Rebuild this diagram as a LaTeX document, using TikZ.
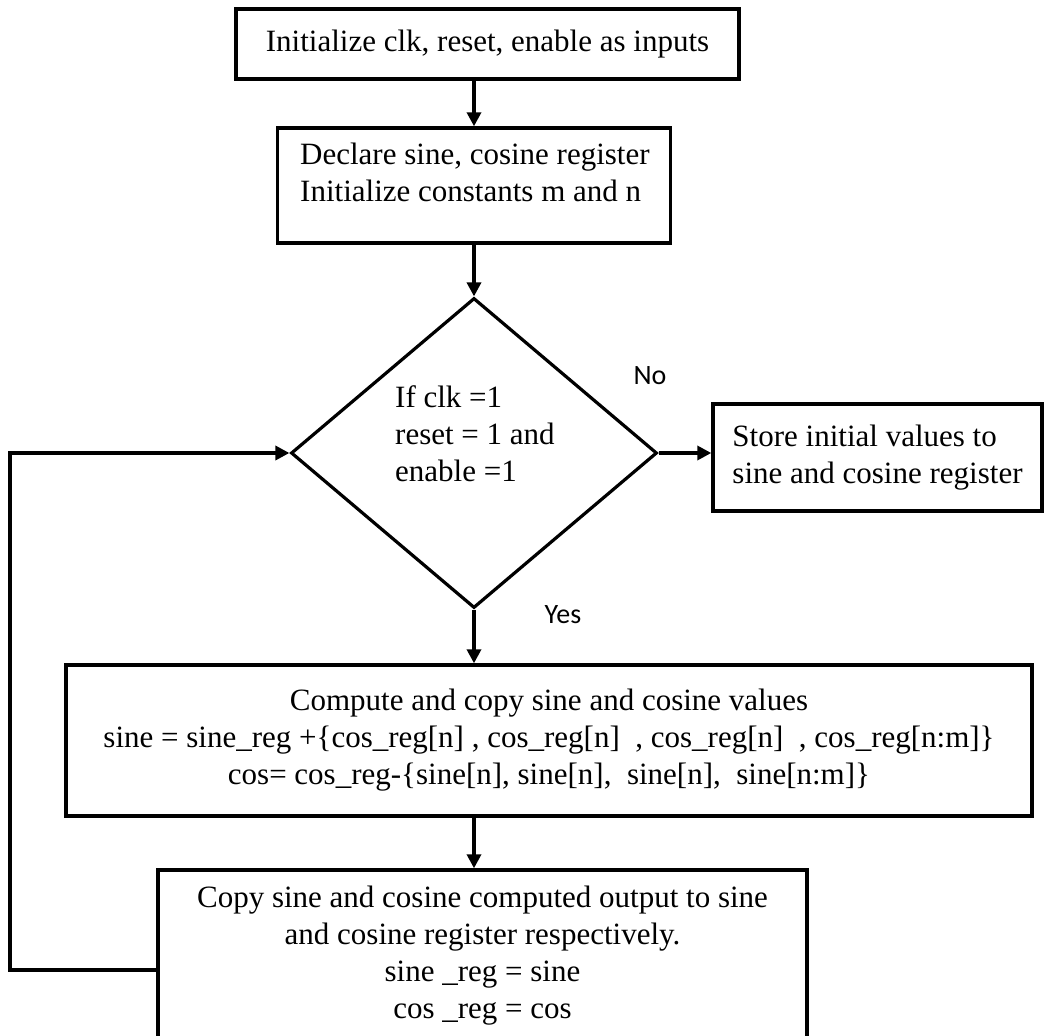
\documentclass[tikz,border=0pt]{standalone}
\usepackage{fontspec}
\setmainfont{Liberation Serif}
\newfontfamily\labelfont{Carlito}
\usetikzlibrary{shapes.geometric,arrows.meta}

\begin{document}
\begin{tikzpicture}[x=1pt,y=-1pt,
	box/.style={draw,line width=3.4pt,inner sep=0pt,align=center,font=\fontsize{31}{37}\selectfont},
	decision/.style={diamond,draw,line width=3.2pt,inner sep=0pt},
	txt/.style={inner sep=0pt,align=left,font=\fontsize{31}{37}\selectfont},
	flow/.style={line width=3.4pt,-{Triangle[length=14pt,width=14pt]}},
	lbl/.style={inner sep=0pt,font=\labelfont\fontsize{28}{32}\selectfont}]
	\useasboundingbox (0,0) rectangle (1047,1036);
	
	% Boxes
	\node[box,minimum width=503pt,minimum height=70pt] (init) at (487.5,44) {Initialize clk, reset, enable as inputs};
	
	\node[box,minimum width=393pt,minimum height=115pt] (declare) at (474,185.5) {};
	\node[txt,anchor=west] (declaretxt) at (300,172) {Declare sine, cosine register\\Initialize constants m and n};
	
	\node[decision,minimum width=366pt,minimum height=310pt] (check) at (474,453) {};
	\node[txt,anchor=west] (checktxt) at (395,434) {If clk =1\\reset = 1 and\\enable =1};
	
	\node[box,align=left,minimum width=329pt,minimum height=107pt] (store) at (877.5,457.5) {Store initial values to\\sine and cosine register};
	
	\node[box,minimum width=966pt,minimum height=151pt] (compute) at (549,740.5) {Compute and copy sine and cosine values\\
		sine = sine\_reg +\{cos\_reg[n] , cos\_reg[n]\ \ , cos\_reg[n]\ \ , cos\_reg[n:m]\}\\
		cos= cos\_reg-\{sine[n], sine[n],\ \ sine[n],\ \ sine[n:m]\}};
	
	\node[box,minimum width=649pt,minimum height=172pt] (copyout) at (482.5,956) {Copy sine and cosine computed output to sine\\
		and cosine register respectively.\\
		sine \_reg = sine\\
		cos \_reg = cos};
	
	% Labels
	\node[lbl] (no) at (650,376) {No};
	\node[lbl] (yes) at (563,615) {Yes};
	
	% Arrows
	\draw[flow] (declare.north |- init.south) -- (declare.north);
	\draw[flow] (declare.south) -- (check.north);
	\draw[flow] (check.east) -- (check.east -| store.west);
	\draw[flow] (check.south) -- (check.south |- compute.north);
	\draw[flow] (check.south |- compute.south) -- (check.south |- copyout.north);
	
	% Loop back
	\coordinate (loop) at (10,970);
	\draw[flow] ([yshift=-14pt]copyout.west) -- (loop) |- (check.west);
\end{tikzpicture}
\end{document}
